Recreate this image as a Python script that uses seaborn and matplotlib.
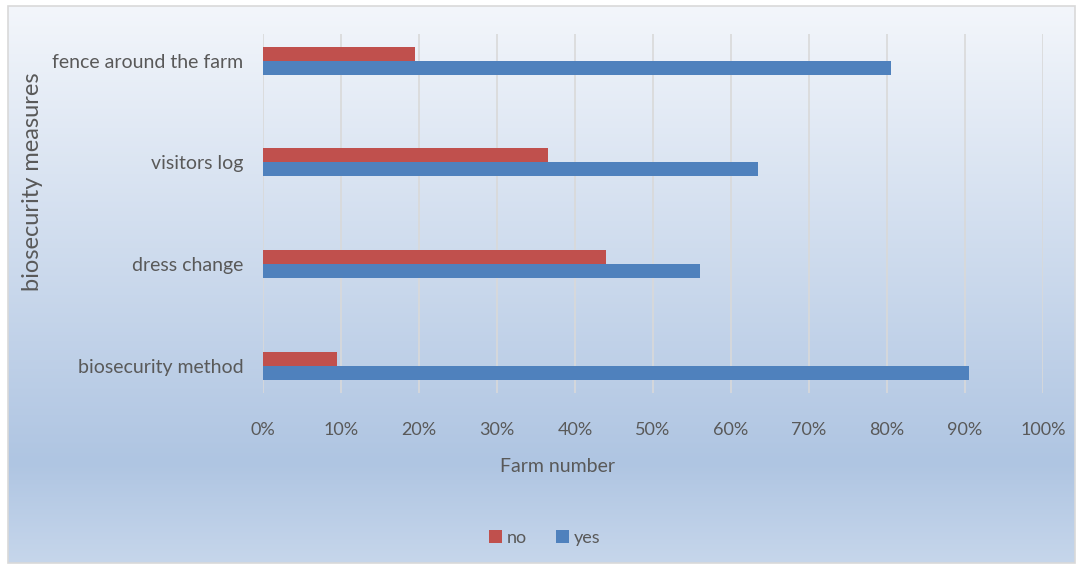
import matplotlib
matplotlib.use("Agg")
import matplotlib.pyplot as plt
from matplotlib.colors import LinearSegmentedColormap
from matplotlib.patches import Rectangle
import numpy as np
import pandas as pd
import seaborn as sns

# data (share of farms, %)
measures = ["fence around the farm", "visitors log", "dress change", "biosecurity method"]
measure_labels = ["fence around the farm", "visitors log", "dress change", "biosecurity method"]
no_values = [19.5, 36.5, 44.0, 9.5]
yes_values = [80.5, 63.5, 56.0, 90.5]
answers = ["no", "yes"]
answer_colors = ["#C0504D", "#4F81BD"]
x_ticks = [0, 10, 20, 30, 40, 50, 60, 70, 80, 90, 100]

df = pd.DataFrame({
    "measure": measures * 2,
    "answer": ["no"] * len(measures) + ["yes"] * len(measures),
    "value": no_values + yes_values,
})

sns.set_theme(style="white")
plt.rcParams["font.family"] = ["Lato", "DejaVu Sans"]
text_gray = "#595959"

W, H = 1078, 566
fig = plt.figure(figsize=(W / 100, H / 100), dpi=100)
fig.patch.set_facecolor("white")

# gradient background like the Excel chart area
bg = fig.add_axes([8 / W, 1 - 563 / H, (1075 - 8) / W, (563 - 6) / H], zorder=0)
grad_cmap = LinearSegmentedColormap.from_list(
    "bg", [(0.0, "#F3F6FB"), (0.82, "#AFC5E2"), (1.0, "#C6D6EB")]
)
bg.imshow(np.linspace(0, 1, 256).reshape(-1, 1), aspect="auto", cmap=grad_cmap,
          extent=[0, 1, 0, 1], origin="upper")
bg.set_axis_off()
fig.patches.append(Rectangle((8 / W, 1 - 563 / H), (1075 - 8) / W, (563 - 6) / H,
                             transform=fig.transFigure, fill=False,
                             edgecolor="#D9D9D9", linewidth=1.2, zorder=1))

ax = fig.add_axes([263 / W, 1 - 393 / H, (1043 - 263) / W, (393 - 34) / H], zorder=2)
ax.patch.set_alpha(0)

sns.barplot(data=df, y="measure", x="value", hue="answer", order=measures,
            hue_order=answers, palette=answer_colors, orient="h",
            width=0.275, gap=0, saturation=1, linewidth=0, ax=ax, zorder=3)

ax.set_xlim(0, 100)
ax.set_ylim(3.264, -0.262)
ax.set_xticks(x_ticks)
ax.set_xticklabels([f"{t}%" for t in x_ticks])
ax.set_yticks(range(len(measures)))
ax.set_yticklabels(measure_labels)
ax.tick_params(axis="x", length=0, pad=21, labelsize=13, labelcolor=text_gray)
ax.tick_params(axis="y", length=0, pad=14, labelsize=14, labelcolor=text_gray)
ax.grid(axis="x", color="#D9D9D9", linewidth=1.2, zorder=0)
ax.set_axisbelow(True)
for s in ax.spines.values():
    s.set_visible(False)
ax.set_xlabel("")
ax.set_ylabel("")

fig.text(558 / W, 1 - 467 / H, "Farm number", ha="center", va="center",
         fontsize=14, color=text_gray)
fig.text(33 / W, 1 - 182 / H, "biosecurity measures", ha="center", va="center",
         rotation=90, fontsize=17, color=text_gray)

handles, labels = ax.get_legend_handles_labels()
ax.legend_.remove()
fig.legend(handles, labels, loc="center", bbox_to_anchor=(545 / W, 1 - 538 / H),
           ncol=2, frameon=False, handlelength=0.7, handleheight=0.7,
           handletextpad=0.3, columnspacing=1.6, fontsize=13, labelcolor=text_gray)

fig.savefig("out.png", dpi=100)
